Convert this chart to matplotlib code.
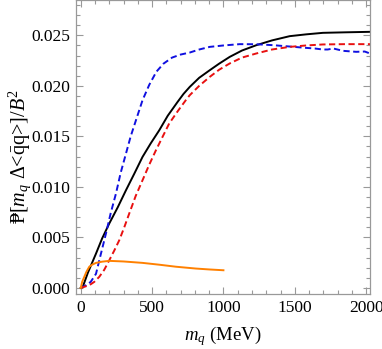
import matplotlib
matplotlib.use("Agg")
import matplotlib.pyplot as plt
from matplotlib.ticker import MultipleLocator, FormatStrFormatter

# Data
black_x = [0, 14, 50, 107, 150, 200, 260, 317, 375, 433, 490, 550, 610, 678, 720, 764, 830, 904, 970, 1044, 1130, 1231, 1340, 1464, 1580, 1697, 1850, 2028]
black_y = [0.0, 0.0001, 0.0015, 0.0034, 0.0049, 0.00638, 0.0080, 0.00967, 0.0113, 0.01297, 0.0143, 0.0156, 0.01705, 0.0184, 0.0192, 0.0199, 0.0208, 0.02155, 0.0222, 0.02287, 0.0235, 0.02403, 0.0245, 0.02492, 0.0251, 0.02525, 0.0253, 0.02535]

blue_x = [0, 37, 70, 107, 140, 177, 210, 247, 280, 317, 350, 387, 433, 480, 530, 580, 640, 700, 764, 830, 904, 1000, 1114, 1230, 1347, 1460, 1580, 1640, 1697, 1730, 1770, 1837, 1930, 1990, 2028]
blue_y = [0.0, 0.00027, 0.0006, 0.0014, 0.0033, 0.0054, 0.0074, 0.00935, 0.0114, 0.0133, 0.0150, 0.0166, 0.01858, 0.0201, 0.0214, 0.0222, 0.0228, 0.0231, 0.0233, 0.0236, 0.02386, 0.0240, 0.02413, 0.02412, 0.02403, 0.0239, 0.02376, 0.0237, 0.0236, 0.0236, 0.0237, 0.02347, 0.02337, 0.0234, 0.0232]

red_x = [0, 60, 95, 130, 165, 200, 235, 270, 305, 340, 385, 433, 480, 527, 575, 620, 680, 736, 764, 830, 904, 970, 1044, 1130, 1231, 1340, 1464, 1580, 1697, 1850, 2028]
red_y = [0.0, 0.00027, 0.0006, 0.0011, 0.0018, 0.00274, 0.0037, 0.00472, 0.0060, 0.00737, 0.0091, 0.01066, 0.0122, 0.01363, 0.0150, 0.01628, 0.0175, 0.01858, 0.01908, 0.0200, 0.02089, 0.0216, 0.02222, 0.0228, 0.02321, 0.0236, 0.02386, 0.0240, 0.0241, 0.02413, 0.02413]

orange_x = [0, 2, 10, 25, 40, 60, 80, 107, 150, 200, 300, 433, 550, 667, 806, 900, 1000]
orange_y = [0.0, 0.0001, 0.0006, 0.0011, 0.0016, 0.0021, 0.0023, 0.00248, 0.0026, 0.00268, 0.00262, 0.00248, 0.0023, 0.0021, 0.00192, 0.00183, 0.00175]

x_ticks = [0, 500, 1000, 1500, 2000]
y_ticks = [0.000, 0.005, 0.010, 0.015, 0.020, 0.025]

plt.rcParams['font.family'] = ['Liberation Serif', 'DejaVu Serif']
plt.rcParams['mathtext.fontset'] = 'custom'
plt.rcParams['mathtext.rm'] = 'Liberation Serif'
plt.rcParams['mathtext.it'] = 'Liberation Serif:italic'

fig = plt.figure(figsize=(3.82, 3.49), dpi=100)
ax = fig.add_axes([0.199, 0.1576, 0.770, 0.8424])

ax.plot(black_x, black_y, color='black', lw=1.4)
ax.plot(blue_x, blue_y, color='#1010e0', lw=1.4, ls=(0, (3.2, 1.8)))
ax.plot(red_x, red_y, color='#e81010', lw=1.4, ls=(0, (3.2, 1.8)))
ax.plot(orange_x, orange_y, color='#ff8000', lw=1.4)

ax.set_xlim(-33, 2028)
ax.set_ylim(-0.0006, 0.0285)
ax.set_xticks(x_ticks)
ax.set_yticks(y_ticks)
ax.yaxis.set_major_formatter(FormatStrFormatter('%.3f'))
ax.xaxis.set_minor_locator(MultipleLocator(100))
ax.yaxis.set_minor_locator(MultipleLocator(0.001))

gray = '#999999'
for s in ax.spines.values():
    s.set_color(gray)
    s.set_linewidth(0.9)
ax.tick_params(which='both', direction='in', top=True, right=True, color=gray,
               labelsize=12.5, labelcolor='black', width=0.8)
ax.tick_params(which='major', length=5, pad=4)
ax.tick_params(which='minor', length=2.8)

ax.set_xlabel(r'$m_q$ (MeV)', fontsize=13.5, labelpad=6)
fig.text(20 / 382, 1 - 157 / 349,
         '\u20b1[' + r'$m_q$' + ' \u0394<' + r'$\bar{\mathrm{q}}$' + 'q>]/' + r'$B^2$',
         fontsize=14.5, rotation=90, ha='center', va='center')

fig.savefig('out.png', dpi=100)
